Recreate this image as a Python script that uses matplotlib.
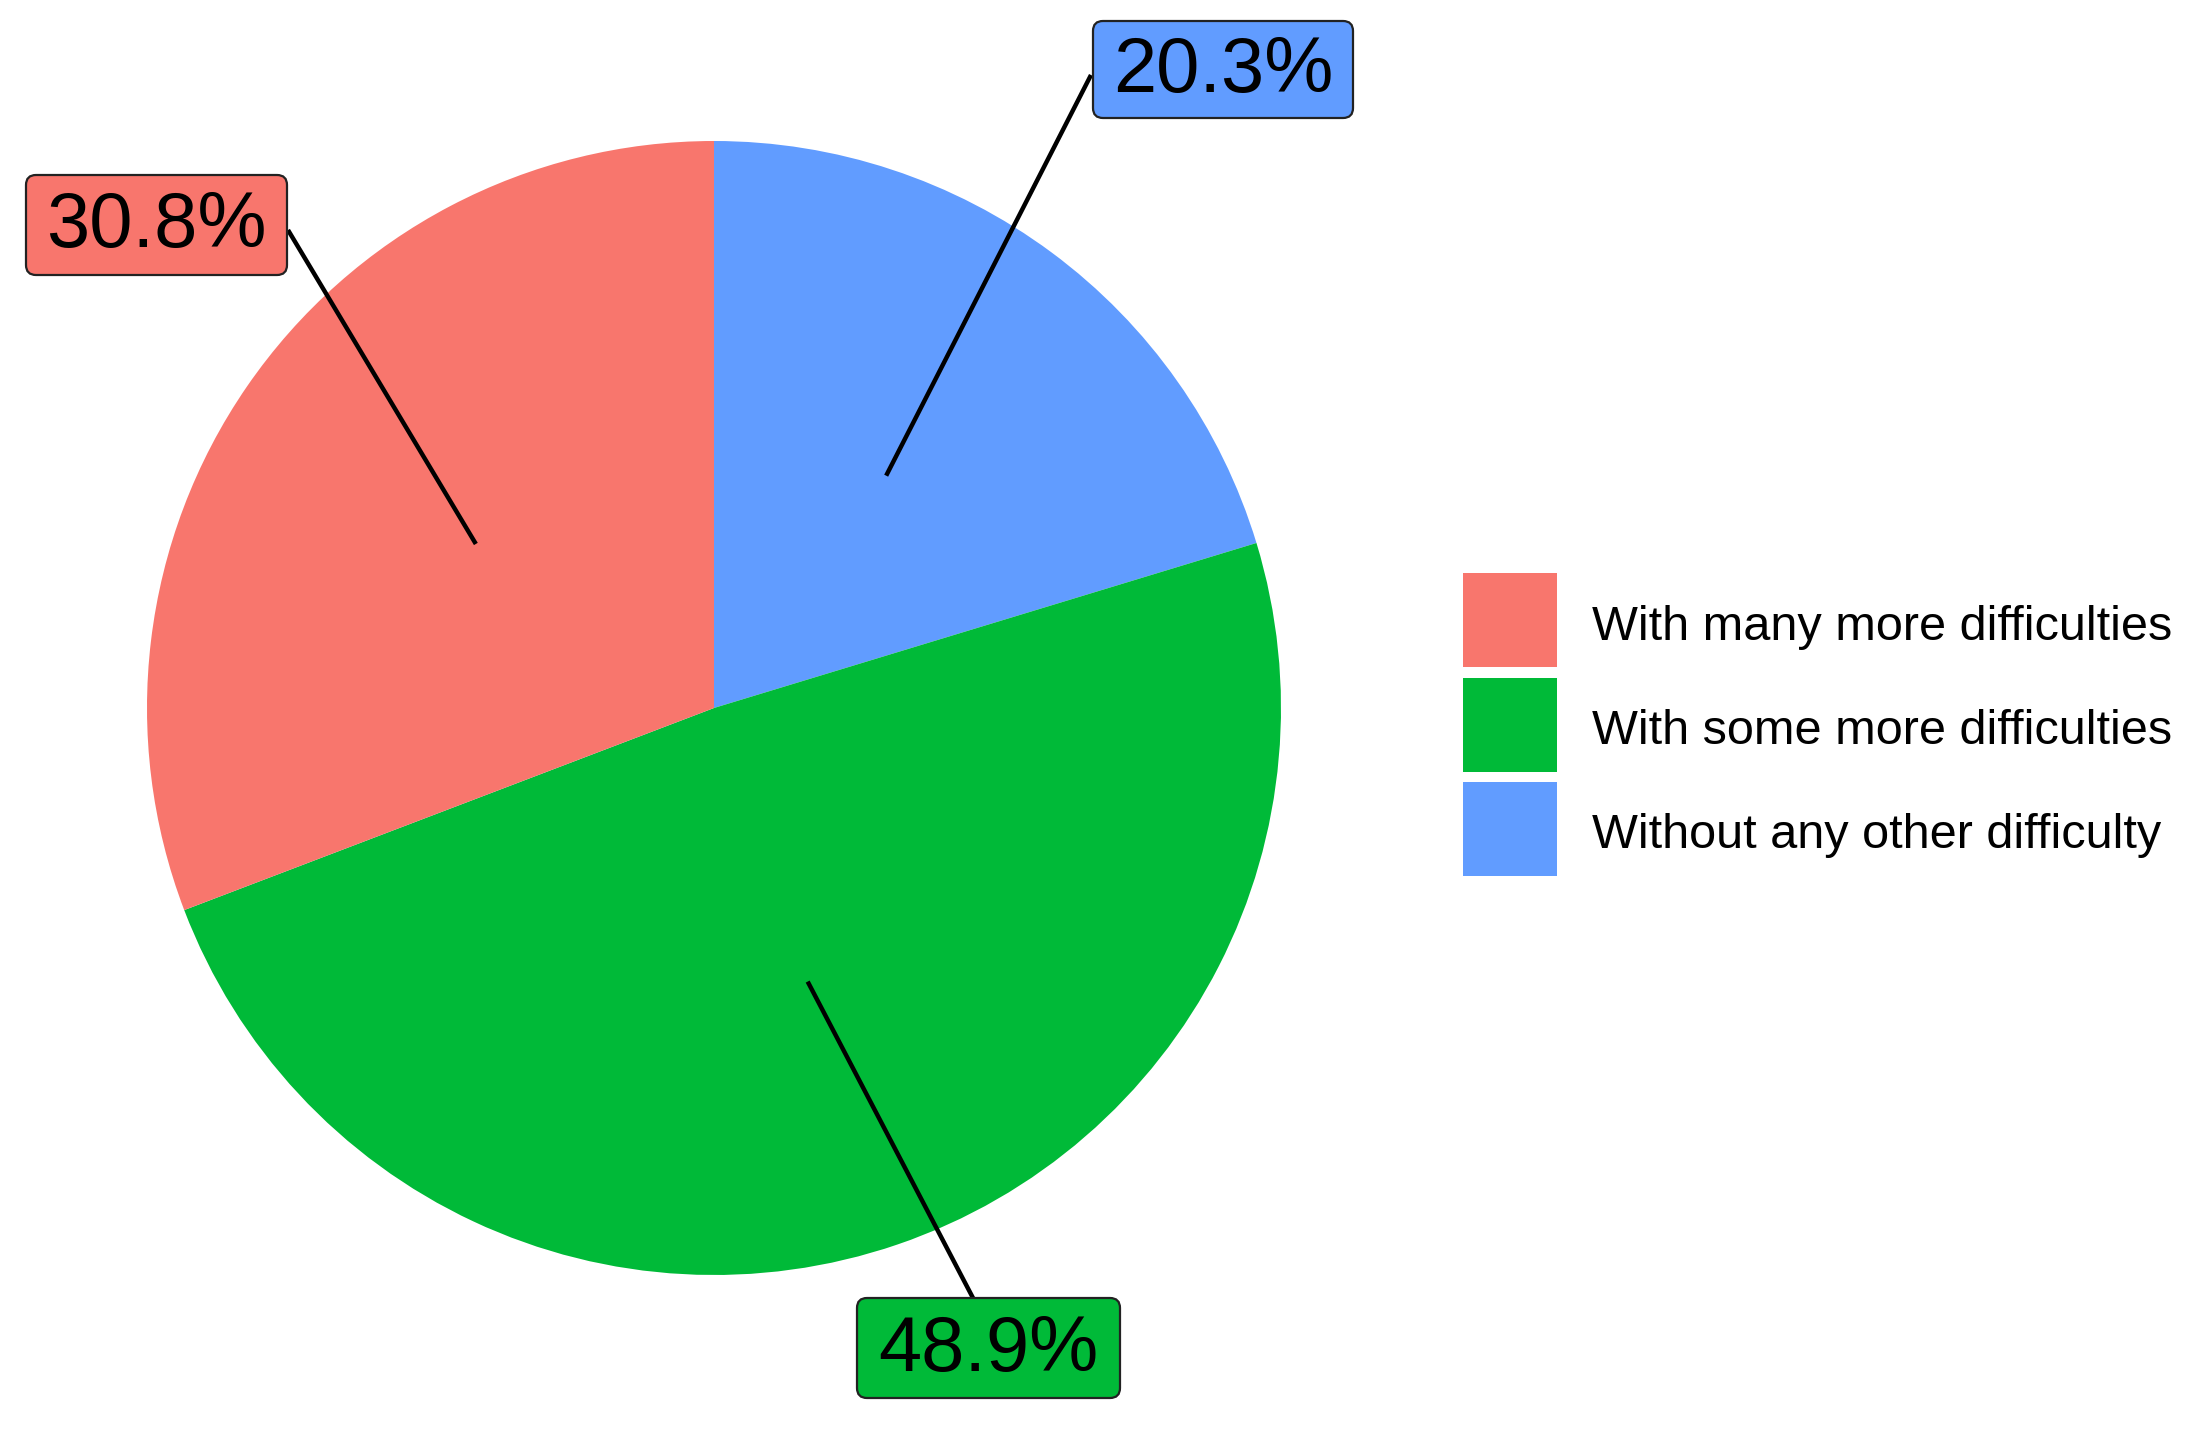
import numpy as np
import matplotlib.pyplot as plt
from matplotlib.patches import FancyBboxPatch, Rectangle

# Data
categories = ["Without any other difficulty", "With some more difficulties", "With many more difficulties"]
shares = [20.3, 48.9, 30.8]
labels = ["20.3%", "48.9%", "30.8%"]
colors = ["#619CFF", "#00BA38", "#F8766D"]
legend_order = [2, 1, 0]

W, H = 2191, 1430
fam = ["Liberation Sans", "DejaVu Sans"]

fig = plt.figure(figsize=(W / 100, H / 100), dpi=100)
ax = fig.add_axes([0, 0, 1, 1])

# work in pixel coords, y measured from the top
cx, cy, r = 714, 708, 567
wedges, _ = ax.pie(
    shares,
    colors=colors,
    startangle=90,
    counterclock=False,
    radius=r,
    center=(cx, H - cy),
    wedgeprops=dict(linewidth=0),
)
ax.set_xlim(0, W)
ax.set_ylim(0, H)
ax.set_aspect("equal")
ax.set_axis_off()

# label boxes (x0, y0, x1, y1) and where the leader line meets them
boxes = [(1093, 21, 1353, 118), (857, 1298, 1120, 1398), (26, 175, 287, 275)]
line_ends = [(1091, 75), (973, 1298), (288, 230)]

start = 90.0
for i, share in enumerate(shares):
    span = share / 100 * 360
    mid = np.deg2rad(start - span / 2)
    start -= span
    px, py = cx + 0.51 * r * np.cos(mid), (H - cy) + 0.51 * r * np.sin(mid)
    ex, ey = line_ends[i]
    ax.plot([px, ex], [py, H - ey], color="black", lw=3.2, solid_capstyle="butt", zorder=3)

    x0, y0, x1, y1 = boxes[i]
    ax.add_patch(FancyBboxPatch(
        (x0, H - y1), x1 - x0, y1 - y0,
        boxstyle="round,pad=0,rounding_size=10",
        fc=colors[i], ec="#222222", lw=1.6, zorder=4,
    ))
    ax.text((x0 + x1) / 2, H - (y0 + y1) / 2 - 2, labels[i], ha="center", va="center",
            fontsize=56, family=fam, color="black", zorder=5)

# Legend drawn by hand
key_x, key_w, key_h = 1463, 94, 94
key_tops = [573, 678, 782]
for k, i in enumerate(legend_order):
    top = key_tops[k]
    ax.add_patch(Rectangle((key_x, H - top - key_h), key_w, key_h, fc=colors[i], ec="none", zorder=2))
    ax.text(1592, H - top - key_h / 2 - 7, categories[i], ha="left", va="center",
            fontsize=35, family=fam, color="black")

fig.savefig("out.png", dpi=100, facecolor="white")
